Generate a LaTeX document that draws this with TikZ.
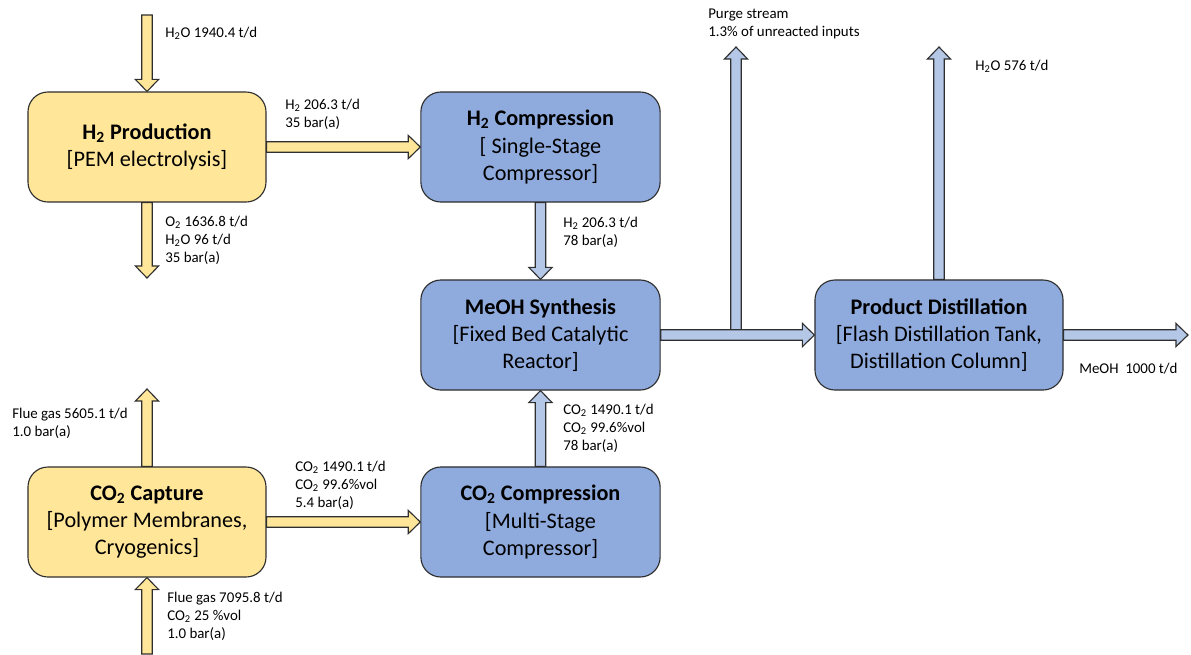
\documentclass[tikz,border=0pt]{standalone}
\usepackage{fontspec}
\setmainfont{Carlito}
\usetikzlibrary{calc, positioning}

\definecolor{prodyellow}{HTML}{FFE699}
\definecolor{unitblue}{HTML}{8FAADC}
\definecolor{pipeblue}{HTML}{B4C7E7}
\definecolor{edgegrey}{HTML}{2F2F2F}
\newcommand{\two}{\textsubscript{2}}

\tikzset{
  unit/.style={text centered, draw=edgegrey, line width=0.8pt, rounded corners=0.5cm, minimum width=5.95cm, minimum height=2.75cm, inner sep=0pt, align=center, font=\fontsize{15.8}{19.4}\selectfont},
  yellowunit/.style={unit, fill=prodyellow},
  blueunit/.style={unit, fill=unitblue},
  stream/.style={anchor=west, align=left, inner sep=0pt, font=\fontsize{10.6}{12.9}\selectfont},
  % block arrow between two points
  pipe/.style={draw=edgegrey, line width=0.8pt, to path={
      ($(\tikztostart)!0.13cm!90:(\tikztotarget)$)
      -- ($(\tikztotarget)!0.3cm!(\tikztostart)!0.13cm!90:(\tikztotarget)$)
      -- ($(\tikztotarget)!0.3cm!(\tikztostart)!0.29cm!90:(\tikztotarget)$)
      -- (\tikztotarget)
      -- ($(\tikztotarget)!0.3cm!(\tikztostart)!0.29cm!-90:(\tikztotarget)$)
      -- ($(\tikztotarget)!0.3cm!(\tikztostart)!0.13cm!-90:(\tikztotarget)$)
      -- ($(\tikztostart)!0.13cm!-90:(\tikztotarget)$) -- cycle}},
  yellowpipe/.style={pipe, fill=prodyellow},
  bluepipe/.style={pipe, fill=pipeblue},
}

\begin{document}
\begin{tikzpicture}[x=0.025cm, y=-0.025cm]
        \useasboundingbox (0,0) rectangle (1191,654);

        \node (H2Production) at (147,147) [yellowunit]{\textbf{H\two{} Production}\\{}[PEM electrolysis]};
        \node (H2Compression) at ($(H2Production) + (393.5,0)$) [blueunit, minimum width=5.98cm]{\textbf{H\two{} Compression}\\{}[ Single-Stage\\Compressor]};
        \node (MeOHSynthesis) at ($(H2Compression) + (0,188)$) [blueunit, minimum width=5.98cm]{\textbf{MeOH Synthesis}\\{}[Fixed Bed Catalytic\\Reactor]};
        \node (CO2Compression) at ($(MeOHSynthesis) + (0,187)$) [blueunit, minimum width=5.98cm]{\textbf{CO\two{} Compression}\\{}[Multi-Stage\\Compressor]};
        \node (CO2Capture) at ($(H2Production) + (0,375)$) [yellowunit]{\textbf{CO\two{} Capture}\\{}[Polymer Membranes,\\Cryogenics]};
        \node (ProductDistillation) at ($(MeOHSynthesis) + (398.5,0)$) [blueunit, minimum width=6.2cm]{\textbf{Product Distillation}\\{}[Flash Distillation Tank,\\Distillation Column]};

        % free ends of the streams
        \coordinate (WaterIn) at (147,15);
        \coordinate (OxygenOut) at (147,278);
        \coordinate (PurgeBase) at (736,330);
        \coordinate (PurgeOut) at (736,47);
        \coordinate (WaterOut) at (939,47);
        \coordinate (MeOHOut) at (1188,335);
        \coordinate (FlueGasOut) at (147,389);
        \coordinate (FlueGasIn) at (147,654);

        \draw[yellowpipe] (WaterIn) to (H2Production.north);
        \draw[yellowpipe] (H2Production.south) to (OxygenOut);
        \draw[yellowpipe] (H2Production.east) to (H2Compression.west);
        \draw[bluepipe] (H2Compression.south) to (MeOHSynthesis.north);
        \draw[bluepipe] (CO2Compression.north) to (MeOHSynthesis.south);
        \draw[yellowpipe] (CO2Capture.east) to (CO2Compression.west);
        \draw[yellowpipe] (CO2Capture.north) to (FlueGasOut);
        \draw[yellowpipe] (FlueGasIn) to (CO2Capture.south);
        \draw[bluepipe] (PurgeBase) to (PurgeOut);
        \draw[bluepipe] (MeOHSynthesis.east) to (ProductDistillation.west);
        \draw[bluepipe] (ProductDistillation.north) to (WaterOut);
        \draw[bluepipe] (ProductDistillation.east) to (MeOHOut);

        \node (WaterInLabel) at (165,33) [stream]{H\two O 1940.4 t/d};
        \node (H2Label) at (285,114) [stream]{H\two{} 206.3 t/d\\35 bar(a)};
        \node (OxygenLabel) at (165,240) [stream]{O\two{} 1636.8 t/d\\H\two O 96 t/d\\35 bar(a)};
        \node (H2HighLabel) at (563,232) [stream]{H\two{} 206.3 t/d\\78 bar(a)};
        \node (PurgeLabel) at (708,24) [stream]{Purge stream\\1.3\% of unreacted inputs};
        \node (WaterOutLabel) at (975,66) [stream]{H\two O 576 t/d};
        \node (MeOHLabel) at (1079,369) [stream]{MeOH\ \ 1000 t/d};
        \node (CO2HighLabel) at (563,428) [stream]{CO\two{} 1490.1 t/d\\CO\two{} 99.6\%vol\\78 bar(a)};
        \node (FlueOutLabel) at (12,423) [stream]{Flue gas 5605.1 t/d\\1.0 bar(a)};
        \node (CO2LowLabel) at (295,485) [stream]{CO\two{} 1490.1 t/d\\CO\two{} 99.6\%vol\\5.4 bar(a)};
        \node (FlueInLabel) at (167,616) [stream]{Flue gas 7095.8 t/d\\CO\two{} 25 \%vol\\1.0 bar(a)};
\end{tikzpicture}
\end{document}
